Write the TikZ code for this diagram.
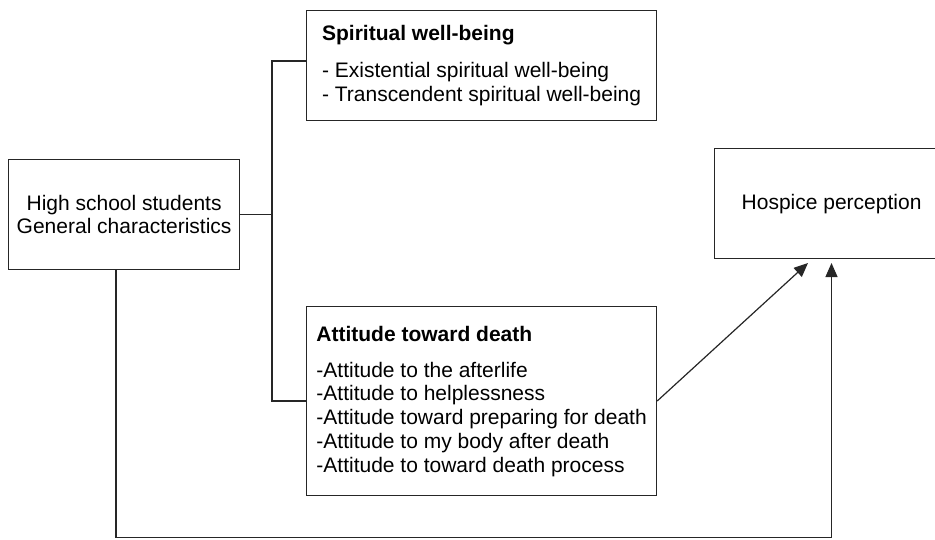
\documentclass[tikz,border=0pt]{standalone}
\usepackage{fontspec}
\setmainfont{Liberation Sans}
\usetikzlibrary{arrows.meta}
\tikzset{
  box/.style={draw=black!85, line width=1.2pt, rectangle, inner sep=0pt, anchor=north west, font=\fontsize{21}{23.7}\selectfont},
  conn/.style={draw=black!85, line width=1.2pt},
  arr/.style={conn, -{Triangle[length=14pt,width=12pt]}}
}
\begin{document}
\begin{tikzpicture}[x=1pt,y=-1pt]
\useasboundingbox (0,0) rectangle (935,539);
\clip (0,0) rectangle (935,539);
\node[box, minimum width=231, minimum height=110, align=center] (hs) at (8,159)
  {High school students\\General characteristics};
\node[box, minimum width=350, minimum height=110, align=left] (sw) at (306,10)
  {\textbf{Spiritual well-being}\\[13.3pt]- Existential spiritual well-being\\- Transcendent spiritual well-being};
\node[box, minimum width=350, minimum height=189, align=left] (ad) at (306,306)
  {\textbf{Attitude toward death}\\[12.5pt]-Attitude to the afterlife\\-Attitude to helplessness\\-Attitude toward preparing for death\\-Attitude to my body after death\\-Attitude to toward death process};
\node[box, minimum width=234, minimum height=110, align=center] (hp) at (714,148)
  {Hospice perception};
\coordinate (b1) at (272,61);
\coordinate (b2) at (272,401);
\coordinate (d1) at (808,263);
\coordinate (low1) at (116,537.5);
\coordinate (low2) at (831.5,537.5);
\coordinate (d2) at (831.5,263);
\draw[conn] (hs.east) -- (hs.east -| b1);
\draw[conn] (sw.west |- b1) -- (b1) -- (b2) -- (ad.west |- b2);
\draw[arr] (ad.east |- b2) -- (d1);
\draw[arr] (hs.south -| low1) -- (low1) -- (low2) -- (d2);
\end{tikzpicture}
\end{document}
